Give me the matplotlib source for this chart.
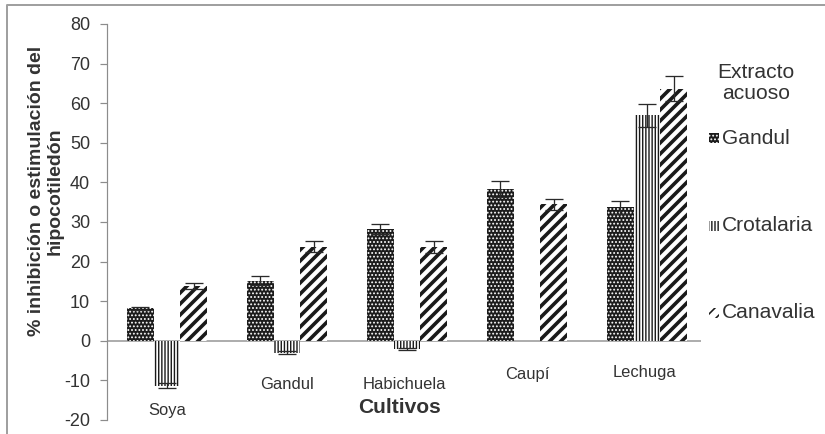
import matplotlib
matplotlib.use("Agg")
import matplotlib.pyplot as plt
import numpy as np
from matplotlib.patches import Rectangle
from matplotlib.lines import Line2D

# Datos: % de inhibición o estimulación del hipocotiledón por extracto acuoso
cultivos = ["Soya", "Gandul", "Habichuela", "Caupí", "Lechuga"]
extractos = ["Gandul", "Crotalaria", "Canavalia"]

gandul = [8.2, 15.2, 28.2, 38.3, 33.7]
crotalaria = [-11.3, -3.0, -2.0, 0.0, 56.9]
canavalia = [13.8, 23.8, 23.6, 34.5, 63.7]

err_gandul = [0.4, 1.1, 1.3, 2.0, 1.7]
err_crotalaria = [0.7, 0.4, 0.3, 0.0, 3.0]
err_canavalia = [0.8, 1.3, 1.5, 1.4, 3.2]

DPI = 132
W, H = 825, 434


def pt(px):
    # pixeles -> puntos
    return px * 72.0 / DPI


plt.rcParams["font.family"] = ["Liberation Sans", "DejaVu Sans"]
plt.rcParams["axes.unicode_minus"] = False

fig = plt.figure(figsize=(W / DPI, H / DPI), dpi=DPI)
ax = fig.add_axes([107 / W, 1 - 420 / H, 594 / W, 396 / H])

x = np.arange(len(cultivos))
w = 0.222

estilos = [
    dict(facecolor="#1c1c1c", edgecolor="white", hatch="......", hlw=pt(1.2)),
    dict(facecolor="white", edgecolor="#1a1a1a", hatch="|||||||", hlw=pt(1.4)),
    dict(facecolor="white", edgecolor="#1a1a1a", hatch="////", hlw=pt(3.6)),
]

series = [gandul, crotalaria, canavalia]
errores = [err_gandul, err_crotalaria, err_canavalia]

ax.axhline(0, color="#9a9a9a", lw=pt(1.6), zorder=1)

for i, (vals, errs, est) in enumerate(zip(series, errores, estilos)):
    pos = x + (i - 1) * w
    with plt.rc_context({"hatch.linewidth": est["hlw"]}):
        bars = ax.bar(pos, vals, width=w, facecolor=est["facecolor"],
                      edgecolor=est["edgecolor"], hatch=est["hatch"],
                      linewidth=0, zorder=2)
        for b in bars:
            if hasattr(b, "set_hatch_linewidth"):
                b.set_hatch_linewidth(est["hlw"])
    mask = np.array(errs) > 0
    ax.errorbar(pos[mask], np.array(vals)[mask], yerr=np.array(errs)[mask],
                fmt="none", ecolor="#2a2a2a", elinewidth=pt(1.3),
                capsize=pt(9), capthick=pt(1.3), zorder=3)

ax.set_xlim(-0.5, 4.45)
ax.set_ylim(-20, 80)
ax.set_yticks(np.arange(-20, 81, 10))
ax.set_xticks([])

for s in ["top", "right", "bottom"]:
    ax.spines[s].set_visible(False)
ax.spines["left"].set_color("#8c8c8c")
ax.spines["left"].set_linewidth(pt(1.2))
ax.tick_params(axis="y", length=pt(7), width=pt(1.2), color="#8c8c8c",
               labelcolor="#333333", labelsize=pt(18), pad=pt(10))

# etiquetas de cultivo colocadas a distinta altura
label_x = [0.0, 1.0, 1.98, 3.0, 3.98]
label_y = [-17.5, -11.1, -11.1, -8.4, -8.1]
for c, lx, ly in zip(cultivos, label_x, label_y):
    ax.text(lx, ly, c, ha="center", va="center", fontsize=pt(16.5),
            color="#333333")

ax.text(1.94, -16.9, "Cultivos", ha="center", va="center",
        fontsize=pt(21), fontweight="bold", color="#333333")

fig.text(46 / W, 1 - 191 / H, "% inhibición o estimulación del\nhipocotiledón",
         rotation=90, ha="center", va="center", multialignment="center",
         fontsize=pt(19.5), fontweight="bold", color="#333333", linespacing=1.15)

# leyenda
fig.text(756 / W, 1 - 83 / H, "Extracto\nacuoso", ha="center", va="center",
         fontsize=pt(21), color="#333333", linespacing=1.15)
leg_y = [138, 226, 313]
for nombre, est, ly in zip(extractos, estilos, leg_y):
    hlw = min(est["hlw"], pt(1.6))
    with plt.rc_context({"hatch.linewidth": hlw}):
        r = Rectangle((709 / W, 1 - (ly + 5) / H), 10 / W, 10 / H,
                      transform=fig.transFigure, facecolor=est["facecolor"],
                      edgecolor=est["edgecolor"], hatch=est["hatch"],
                      linewidth=0)
        if hasattr(r, "set_hatch_linewidth"):
            r.set_hatch_linewidth(hlw)
    fig.add_artist(r)
    fig.text(722 / W, 1 - ly / H, nombre, ha="left", va="center",
             fontsize=pt(21), color="#333333")

# marco exterior
fig.add_artist(Line2D([7 / W, 7 / W, 1.0], [0.0, 1 - 5 / H, 1 - 5 / H],
                      transform=fig.transFigure, color="#a0a0a0", lw=pt(2)))

fig.savefig("out.png", dpi=DPI, facecolor="white")
